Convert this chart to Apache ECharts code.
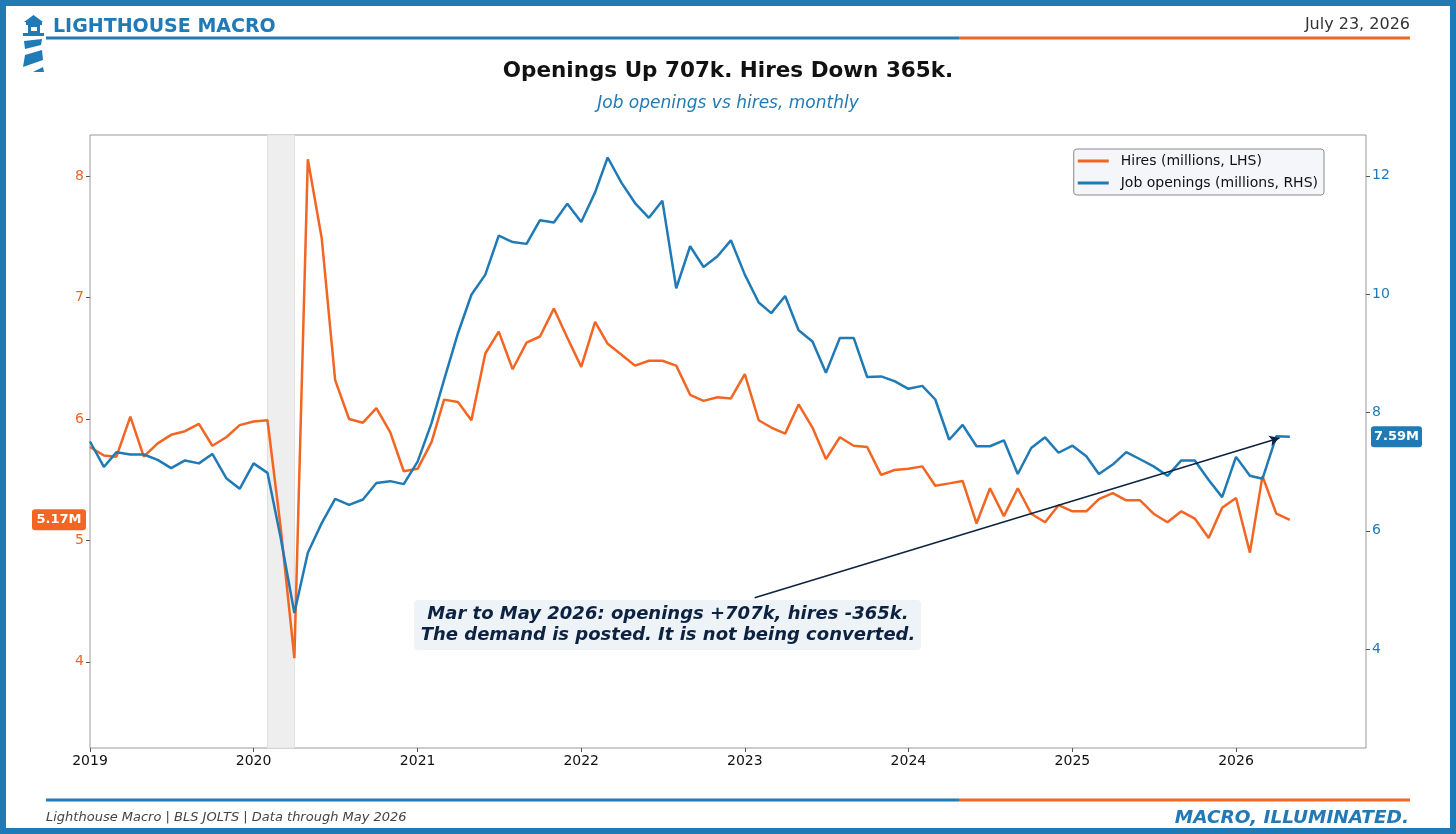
<!DOCTYPE html>
<html>
<head>
<meta charset="utf-8">
<script src="https://cdn.jsdelivr.net/npm/echarts@6/dist/echarts.min.js"></script>
<style>
html, body { margin: 0; padding: 0; background: #fff; }
#chart { width: 1456px; height: 834px; }
</style>
</head>
<body>
<div id="chart"></div>
<script>
var BLUE = '#1f7ab5';
var ORANGE = '#f26522';
var NAVY = '#0d2240';
var FONT = '"DejaVu Sans", sans-serif';

// monthly data, Jan 2019 .. May 2026 (millions)
var startYear = 2019;
var hires2019 = [5.77, 5.70, 5.69, 6.02, 5.69, 5.80, 5.87, 5.90, 5.96, 5.78, 5.85, 5.95];
var hires2020 = [5.98, 5.99, 5.12, 4.03, 8.14, 7.49, 6.32, 6.00, 5.97, 6.09, 5.89, 5.57];
var hires2021 = [5.59, 5.81, 6.16, 6.14, 5.99, 6.54, 6.72, 6.41, 6.63, 6.68, 6.91, 6.67];
var hires2022 = [6.43, 6.80, 6.62, 6.53, 6.44, 6.48, 6.48, 6.44, 6.20, 6.15, 6.18, 6.17];
var hires2023 = [6.37, 5.99, 5.93, 5.88, 6.12, 5.93, 5.67, 5.85, 5.78, 5.77, 5.54, 5.58];
var hires2024 = [5.59, 5.61, 5.45, 5.47, 5.49, 5.14, 5.43, 5.20, 5.43, 5.22, 5.15, 5.29];
var hires2025 = [5.24, 5.24, 5.34, 5.39, 5.33, 5.33, 5.22, 5.15, 5.24, 5.18, 5.02, 5.27];
var hires2026 = [5.35, 4.90, 5.53, 5.22, 5.17];

var openings2019 = [7.51, 7.08, 7.33, 7.29, 7.29, 7.20, 7.06, 7.19, 7.14, 7.30, 6.89, 6.71];
var openings2020 = [7.14, 6.98, 5.90, 4.61, 5.63, 6.13, 6.54, 6.44, 6.53, 6.81, 6.84, 6.79];
var openings2021 = [7.17, 7.82, 8.55, 9.34, 9.99, 10.33, 10.99, 10.88, 10.85, 11.25, 11.21, 11.53];
var openings2022 = [11.22, 11.72, 12.31, 11.88, 11.54, 11.29, 11.58, 10.10, 10.81, 10.46, 10.64, 10.91];
var openings2023 = [10.33, 9.86, 9.68, 9.97, 9.39, 9.20, 8.67, 9.26, 9.26, 8.60, 8.61, 8.53];
var openings2024 = [8.40, 8.45, 8.22, 7.54, 7.79, 7.43, 7.43, 7.53, 6.96, 7.40, 7.58, 7.32];
var openings2025 = [7.44, 7.26, 6.96, 7.12, 7.33, 7.21, 7.09, 6.93, 7.19, 7.19, 6.86, 6.57];
var openings2026 = [7.25, 6.93, 6.88, 7.60, 7.59];

var hiresTicks = [4, 5, 6, 7, 8];
var openingsTicks = [4, 6, 8, 10, 12];
var recession = ['2020-02-01', '2020-04-01'];
var arrowFrom = ['2023-01-23', 4.87];
var arrowTo = ['2026-04-08', 7.57];
var noteLines = ['Mar to May 2026: openings +707k, hires -365k.', 'The demand is posted. It is not being converted.'];

var hires = [].concat(hires2019, hires2020, hires2021, hires2022, hires2023, hires2024, hires2025, hires2026);
var openings = [].concat(openings2019, openings2020, openings2021, openings2022, openings2023, openings2024, openings2025, openings2026);

var months = [];
for (var i = 0; i < hires.length; i++) {
    var yy = startYear + Math.floor(i / 12), mm = i % 12 + 1;
    months.push(yy + '-' + (mm < 10 ? '0' : '') + mm + '-01');
}
var hiresData = months.map(function(d, i) { return [d, hires[i]]; });
var openingsData = months.map(function(d, i) { return [d, openings[i]]; });

var chart = echarts.init(document.getElementById('chart'));

var YEAR = 365 * 24 * 3600 * 1000;

var option = {
    animation: false,
    backgroundColor: '#fff',
    grid: {
        left: 90, right: 90, top: 135, bottom: 86,
        show: true, borderColor: '#9a9a9a', borderWidth: 1, backgroundColor: 'transparent'
    },
    legend: {
        right: 132, top: 149, orient: 'vertical',
        backgroundColor: '#f4f6f9', borderColor: '#8a8a8a', borderWidth: 1, borderRadius: 3,
        padding: [5, 6, 5, 4], itemGap: 8, itemWidth: 31, itemHeight: 3, icon: 'rect',
        textStyle: { fontFamily: FONT, fontSize: 14, color: '#111', padding: [0, 0, 0, 7] },
        data: ['Hires (millions, LHS)', 'Job openings (millions, RHS)']
    },
    xAxis: {
        type: 'time',
        min: '2019-01-01', max: '2026-10-18',
        minInterval: YEAR, maxInterval: YEAR + 24 * 3600 * 1000,
        axisLine: { show: false },
        axisTick: { show: true, length: 4, lineStyle: { color: '#555' } },
        splitLine: { show: false },
        axisLabel: {
            color: '#111', fontFamily: FONT, fontSize: 14, margin: 6,
            showMaxLabel: false,
            formatter: function(v) { return String(new Date(v).getFullYear()); }
        }
    },
    yAxis: [{
        type: 'value', min: 3.29, max: 8.34, position: 'left',
        axisLine: { show: false },
        splitLine: { show: false },
        axisTick: { show: true, length: 4, customValues: hiresTicks, lineStyle: { color: '#555' } },
        axisLabel: { color: ORANGE, fontFamily: FONT, fontSize: 14, margin: 6, customValues: hiresTicks }
    }, {
        type: 'value', min: 2.33, max: 12.69, position: 'right',
        axisLine: { show: false },
        splitLine: { show: false },
        axisTick: { show: true, length: 4, customValues: openingsTicks, lineStyle: { color: '#555' } },
        axisLabel: { color: BLUE, fontFamily: FONT, fontSize: 14, margin: 6, customValues: openingsTicks }
    }],
    series: [{
        name: 'Hires (millions, LHS)',
        type: 'line', yAxisIndex: 0, data: hiresData,
        showSymbol: false, color: ORANGE,
        lineStyle: { width: 2.5, color: ORANGE },
        markArea: {
            silent: true,
            itemStyle: { color: '#eeeeee', borderColor: '#e0e0e0', borderWidth: 1 },
            data: [[{ xAxis: recession[0] }, { xAxis: recession[1] }]]
        }
    }, {
        name: 'Job openings (millions, RHS)',
        type: 'line', yAxisIndex: 1, data: openingsData,
        showSymbol: false, color: BLUE,
        lineStyle: { width: 2.5, color: BLUE },
        markLine: {
            silent: true,
            symbol: ['none', 'arrow'], symbolSize: [8, 10],
            lineStyle: { color: NAVY, width: 1.5, type: 'solid' },
            label: { show: false },
            data: [[{ coord: arrowFrom }, { coord: arrowTo }]]
        }
    }],
    graphic: [
        { id: 'frame', type: 'rect', shape: { x: 3, y: 3, width: 1450, height: 828 }, style: { fill: 'none', stroke: BLUE, lineWidth: 6 } },
        // logo
        { id: 'roof', type: 'polygon', shape: { points: [[24, 22], [33.5, 15], [43, 22]] }, style: { fill: BLUE } },
        { id: 'cap', type: 'rect', shape: { x: 26, y: 22, width: 16, height: 3 }, style: { fill: BLUE } },
        { id: 'lantern', type: 'rect', shape: { x: 28, y: 25, width: 12, height: 8 }, style: { fill: BLUE } },
        { id: 'window', type: 'rect', shape: { x: 31, y: 27, width: 6, height: 4 }, style: { fill: '#fff' } },
        { id: 'gallery', type: 'rect', shape: { x: 23, y: 33, width: 21, height: 3 }, style: { fill: BLUE } },
        { id: 's1', type: 'polygon', shape: { points: [[24, 41], [42, 39], [41, 45], [25, 49]] }, style: { fill: BLUE } },
        { id: 's2', type: 'polygon', shape: { points: [[25, 55], [42, 50], [43, 60], [23, 67]] }, style: { fill: BLUE } },
        { id: 's3', type: 'polygon', shape: { points: [[33, 72], [43, 67], [44, 72]] }, style: { fill: BLUE } },
        // header
        { id: 'brand', type: 'text', x: 53, y: 27, style: { text: 'LIGHTHOUSE MACRO', font: 'bold 19px ' + FONT, fill: BLUE, align: 'left', verticalAlign: 'middle' } },
        { id: 'date', type: 'text', x: 1410, y: 25, style: { text: 'July 23, 2026', font: '16px ' + FONT, fill: '#333', align: 'right', verticalAlign: 'middle' } },
        { id: 'hl1', type: 'line', shape: { x1: 46, y1: 38, x2: 959, y2: 38 }, style: { stroke: BLUE, lineWidth: 3 } },
        { id: 'hl2', type: 'line', shape: { x1: 959, y1: 38, x2: 1410, y2: 38 }, style: { stroke: ORANGE, lineWidth: 3 } },
        { id: 'title', type: 'text', x: 728, y: 71, style: { text: 'Openings Up 707k. Hires Down 365k.', font: 'bold 21.5px ' + FONT, fill: '#111', align: 'center', verticalAlign: 'middle' } },
        { id: 'sub', type: 'text', x: 728, y: 104, style: { text: 'Job openings vs hires, monthly', font: 'italic 17px ' + FONT, fill: BLUE, align: 'center', verticalAlign: 'middle' } },
        // annotation
        { id: 'notebox', type: 'rect', z: 10, shape: { x: 414, y: 600, width: 507, height: 50, r: 4 }, style: { fill: '#eef3f8' } },
        { id: 'note', type: 'text', z: 11, x: 668, y: 625, style: { text: noteLines.join('\n'), font: 'italic bold 18px ' + FONT, fill: NAVY, align: 'center', verticalAlign: 'middle', lineHeight: 21 } },
        // footer
        { id: 'fl1', type: 'line', shape: { x1: 46, y1: 800, x2: 959, y2: 800 }, style: { stroke: BLUE, lineWidth: 3 } },
        { id: 'fl2', type: 'line', shape: { x1: 959, y1: 800, x2: 1410, y2: 800 }, style: { stroke: ORANGE, lineWidth: 3 } },
        { id: 'source', type: 'text', x: 46, y: 818, style: { text: 'Lighthouse Macro | BLS JOLTS | Data through May 2026', font: 'italic 13px ' + FONT, fill: '#444', align: 'left', verticalAlign: 'middle' } },
        { id: 'tag', type: 'text', x: 1409, y: 818, style: { text: 'MACRO, ILLUMINATED.', font: 'italic bold 18.5px ' + FONT, fill: BLUE, align: 'right', verticalAlign: 'middle' } }
    ]
};

chart.setOption(option);

// value badges for the latest points, placed through the axes' scales
var lastH = hires[hires.length - 1];
var lastO = openings[openings.length - 1];
var yH = chart.convertToPixel({ yAxisIndex: 0 }, lastH);
var yO = chart.convertToPixel({ yAxisIndex: 1 }, lastO);
chart.setOption({
    graphic: [
        { id: 'bH', type: 'rect', shape: { x: 32, y: yH - 10.5, width: 54, height: 21, r: 3 }, style: { fill: ORANGE } },
        { id: 'bHt', type: 'text', x: 59, y: yH, style: { text: lastH.toFixed(2) + 'M', font: 'bold 13px ' + FONT, fill: '#fff', align: 'center', verticalAlign: 'middle' } },
        { id: 'bO', type: 'rect', shape: { x: 1371, y: yO - 10.5, width: 51, height: 21, r: 3 }, style: { fill: BLUE } },
        { id: 'bOt', type: 'text', x: 1396.5, y: yO, style: { text: lastO.toFixed(2) + 'M', font: 'bold 13px ' + FONT, fill: '#fff', align: 'center', verticalAlign: 'middle' } }
    ]
});
</script>
</body>
</html>
